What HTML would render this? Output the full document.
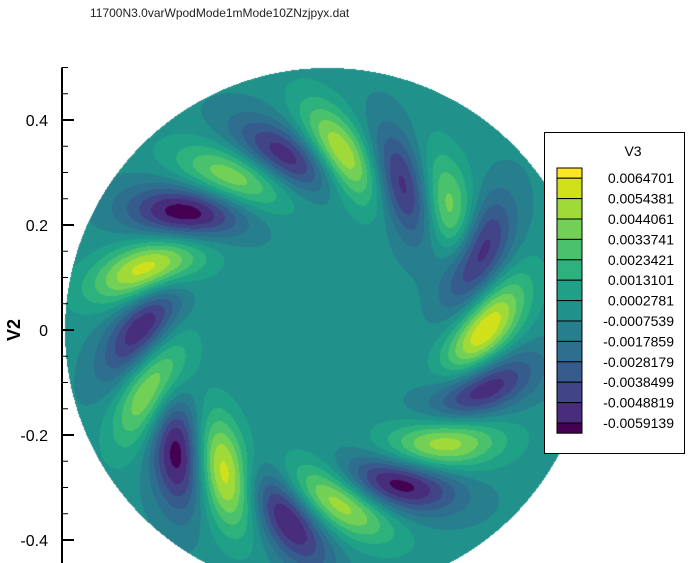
<!DOCTYPE html>
<html><head><meta charset="utf-8">
<style>
html,body{margin:0;padding:0;background:#fff;}
#wrap{position:relative;width:700px;height:563px;overflow:hidden;font-family:"Liberation Sans",sans-serif;}
canvas{position:absolute;left:0;top:0;}
svg{position:absolute;left:0;top:0;}
</style></head>
<body>
<div id="wrap">
<canvas id="cv" width="700" height="563"></canvas>
<svg id="sv" width="700" height="563"></svg>
</div>
<script>
// ---- data ----
const levels = [0.0064701,0.0054381,0.0044061,0.0033741,0.0023421,0.0013101,0.0002781,-0.0007539,-0.0017859,-0.0028179,-0.0038499,-0.0048819,-0.0059139];
const levelColors = ["#fde725","#d0e11c","#a0da39","#73d056","#4ac16d","#2db27d","#1fa187","#21918c","#277f8e","#2e6e8e","#365c8d","#414487","#472d7b","#440154"];
const blobX =   [0.030,-0.179,-0.337,-0.337,-0.198,0.019,0.215,0.297,0.229, -0.076,0.145,-0.267,-0.350,-0.284,-0.076,0.133,0.286,0.286];
const blobY =   [0.330,0.290,0.118,-0.109,-0.267,-0.324,-0.215,0.000,0.229, 0.330,0.272,0.223,0.006,-0.229,-0.356,-0.291,-0.114,0.139];
const blobAmp = [0.0066,0.0050,0.0070,0.0058,0.0070,0.0062,0.0060,0.0073,0.0050, -0.0056,-0.0058,-0.0066,-0.0060,-0.0066,-0.0060,-0.0066,-0.0060,-0.0062];
const blobAngle=[55,20,-20,-65,75,30,-5,-55,75, 30,70,5,-55,85,55,10,-25,-70];
const yTicks = [0.4,0.2,0,-0.2,-0.4];
const yTickLabels = ["0.4","0.2","0","-0.2","-0.4"];
const background = -0.0004;
const sigL = 0.082, sigW = 0.037;

// ---- axes ----
const CX = 327, CY = 330, S = 525, R = 0.5;
const px = x => CX + x*S;
const py = y => CY - y*S;

function field(x,y){
  let v = background;
  for(let i=0;i<blobX.length;i++){
    const a = blobAngle[i]*Math.PI/180;
    const dx = x-blobX[i], dy = -(y-blobY[i]);
    const u = dx*Math.cos(a)+dy*Math.sin(a);
    const w = -dx*Math.sin(a)+dy*Math.cos(a);
    v += blobAmp[i]*Math.exp(-(u*u)/(2*sigL*sigL)-(w*w)/(2*sigW*sigW));
  }
  return v;
}
function hex(c){return [parseInt(c.slice(1,3),16),parseInt(c.slice(3,5),16),parseInt(c.slice(5,7),16)];}
const rgbs = levelColors.map(hex);

const cv = document.getElementById('cv');
const ctx = cv.getContext('2d');
const img = ctx.createImageData(700,563);
for(let j=0;j<563;j++){
  for(let i=0;i<700;i++){
    const k=(j*700+i)*4;
    const x=(i-CX)/S, y=(CY-j)/S;
    if(x*x+y*y<=R*R){
      const v=field(x,y);
      let idx=levels.length;
      for(let l=0;l<levels.length;l++){ if(v>=levels[l]){idx=l;break;} }
      const c=rgbs[idx];
      img.data[k]=c[0];img.data[k+1]=c[1];img.data[k+2]=c[2];img.data[k+3]=255;
    } else {
      img.data[k]=255;img.data[k+1]=255;img.data[k+2]=255;img.data[k+3]=255;
    }
  }
}
ctx.putImageData(img,0,0);

// ---- overlay ----
const NS="http://www.w3.org/2000/svg";
const sv=document.getElementById('sv');
function mk(tag,attrs,parent){const e=document.createElementNS(NS,tag);for(const k in attrs)e.setAttribute(k,attrs[k]);(parent||sv).appendChild(e);return e;}

const title = mk('text',{x:90,y:17,'font-size':12,fill:'#222','font-family':'Liberation Sans, sans-serif'});
title.textContent='11700N3.0varWpodMode1mMode10ZNzjpyx.dat';



const axis = mk('line',{x1:62,y1:py(0.5),x2:62,y2:563,stroke:'#000','stroke-width':2});



for(let m=-9;m<=10;m++){
  const v=m*0.05;
  const major = (m%4===0);
  const t = mk('line',{x1:62,y1:py(v),x2:62+(major?12:6),y2:py(v),stroke:'#000','stroke-width':major?2:1});
  
  
}
yTicks.forEach((v,i)=>{
  const t=mk('text',{x:48,y:py(v)+6,'font-size':16,'text-anchor':'end',fill:'#000','font-family':'Liberation Sans, sans-serif'});
  t.textContent=yTickLabels[i];
  
  
});
const yl=mk('text',{x:0,y:0,'font-size':18,'font-weight':'bold','text-anchor':'middle',fill:'#000',transform:'translate(20,330) rotate(-90)','font-family':'Liberation Sans, sans-serif'});
yl.textContent='V2';



// legend
const lg=mk('g',{});


const lb=mk('rect',{x:544.5,y:132.5,width:140,height:321,fill:'#fff',stroke:'#000','stroke-width':1},lg);


const lt=mk('text',{x:633,y:156,'font-size':14,'text-anchor':'middle',fill:'#000','font-family':'Liberation Sans, sans-serif'},lg);
lt.textContent='V3';


const sx=557, sw=25, legTop=168, step=20.4, half=10.2;
levelColors.forEach((c,i)=>{
  let y0,h;
  if(i===0){y0=legTop;h=half;}
  else if(i===levelColors.length-1){y0=legTop+half+(i-1)*step;h=half;}
  else {y0=legTop+half+(i-1)*step;h=step;}
  const r=mk('rect',{x:sx,y:y0,width:sw,height:h,fill:c,stroke:'#000','stroke-width':1},lg);
  
  
});
levels.forEach((v,i)=>{
  const t=mk('text',{x:674,y:legTop+half+i*step+5,'font-size':14,'text-anchor':'end',fill:'#000','font-family':'Liberation Sans, sans-serif'},lg);
  t.textContent=String(v);
  
  
});
</script>
</body></html>
